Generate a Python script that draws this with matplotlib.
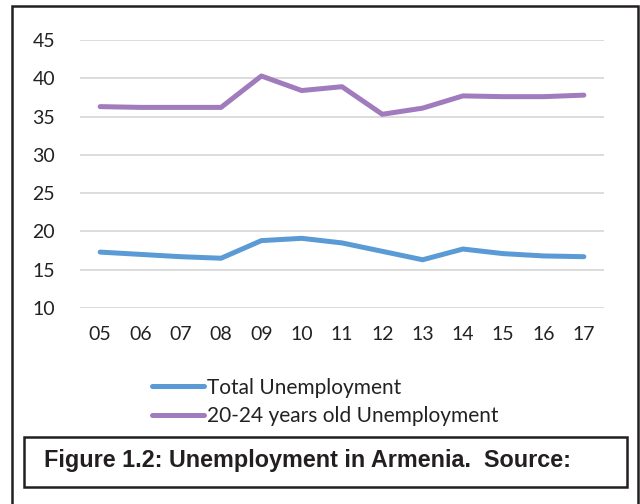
import matplotlib.pyplot as plt
from matplotlib.patches import Rectangle
from matplotlib.lines import Line2D

years = ["05", "06", "07", "08", "09", "10", "11", "12", "13", "14", "15", "16", "17"]
total_unemployment = [17.3, 17.0, 16.7, 16.5, 18.8, 19.1, 18.5, 17.4, 16.3, 17.7, 17.1, 16.8, 16.7]
youth_unemployment = [36.3, 36.2, 36.2, 36.2, 40.3, 38.4, 38.9, 35.3, 36.1, 37.7, 37.6, 37.6, 37.8]
y_ticks = [10, 15, 20, 25, 30, 35, 40, 45]
series_labels = ["Total Unemployment", "20-24 years old Unemployment"]
caption = "Figure 1.2: Unemployment in Armenia.  Source:"

blue = "#5B9BD5"
purple = "#A07BBD"
label_font = ["Lato", "DejaVu Sans"]

fig = plt.figure(figsize=(6.4, 5.04), dpi=100)
W, H = 640, 504

def fx(px):
    return px / W

def fy(py):
    return 1 - py / H

# outer frame of the figure panel
fig.patches.append(Rectangle((fx(12), fy(512)), fx(626), 506 / H, transform=fig.transFigure,
                             fill=False, edgecolor="#231f20", linewidth=1.8))

ax = fig.add_axes([fx(80), fy(308), fx(524), 268 / H])
x = list(range(len(years)))
ax.plot(x, total_unemployment, color=blue, linewidth=3.6, solid_capstyle="round")
ax.plot(x, youth_unemployment, color=purple, linewidth=3.6, solid_capstyle="round")

ax.set_xlim(-0.5, len(years) - 0.5)
ax.set_ylim(10, 45)
ax.set_yticks(y_ticks)
ax.set_xticks(x)
ax.set_xticklabels(years)
ax.grid(axis="y", color="#D9D9D9", linewidth=1.3)
ax.set_axisbelow(True)
for s in ax.spines.values():
    s.set_visible(False)
ax.tick_params(length=0, labelsize=14, colors="#222222", pad=13)
for lab in ax.get_xticklabels() + ax.get_yticklabels():
    lab.set_family(label_font)
ax.tick_params(axis="y", pad=18)

handles = [Line2D([], [], color=blue, linewidth=3.6, solid_capstyle="round"),
           Line2D([], [], color=purple, linewidth=3.6, solid_capstyle="round")]
fig.legend(handles, series_labels, loc="upper left", bbox_to_anchor=(fx(137), fy(363)),
           frameon=False, handlelength=2.5, handletextpad=0.15, labelspacing=0.4,
           borderpad=0.2, prop={"family": label_font, "size": 15}, labelcolor="#222222")

# caption box
fig.patches.append(Rectangle((fx(24), fy(487)), fx(603), 50 / H, transform=fig.transFigure,
                             fill=False, edgecolor="#231f20", linewidth=1.8))
fig.text(fx(44), fy(461), caption, fontsize=16.8, fontweight="bold",
         family=["Liberation Sans", "DejaVu Sans"], color="#231f20", va="center", ha="left")

fig.savefig("out.png", dpi=100)
